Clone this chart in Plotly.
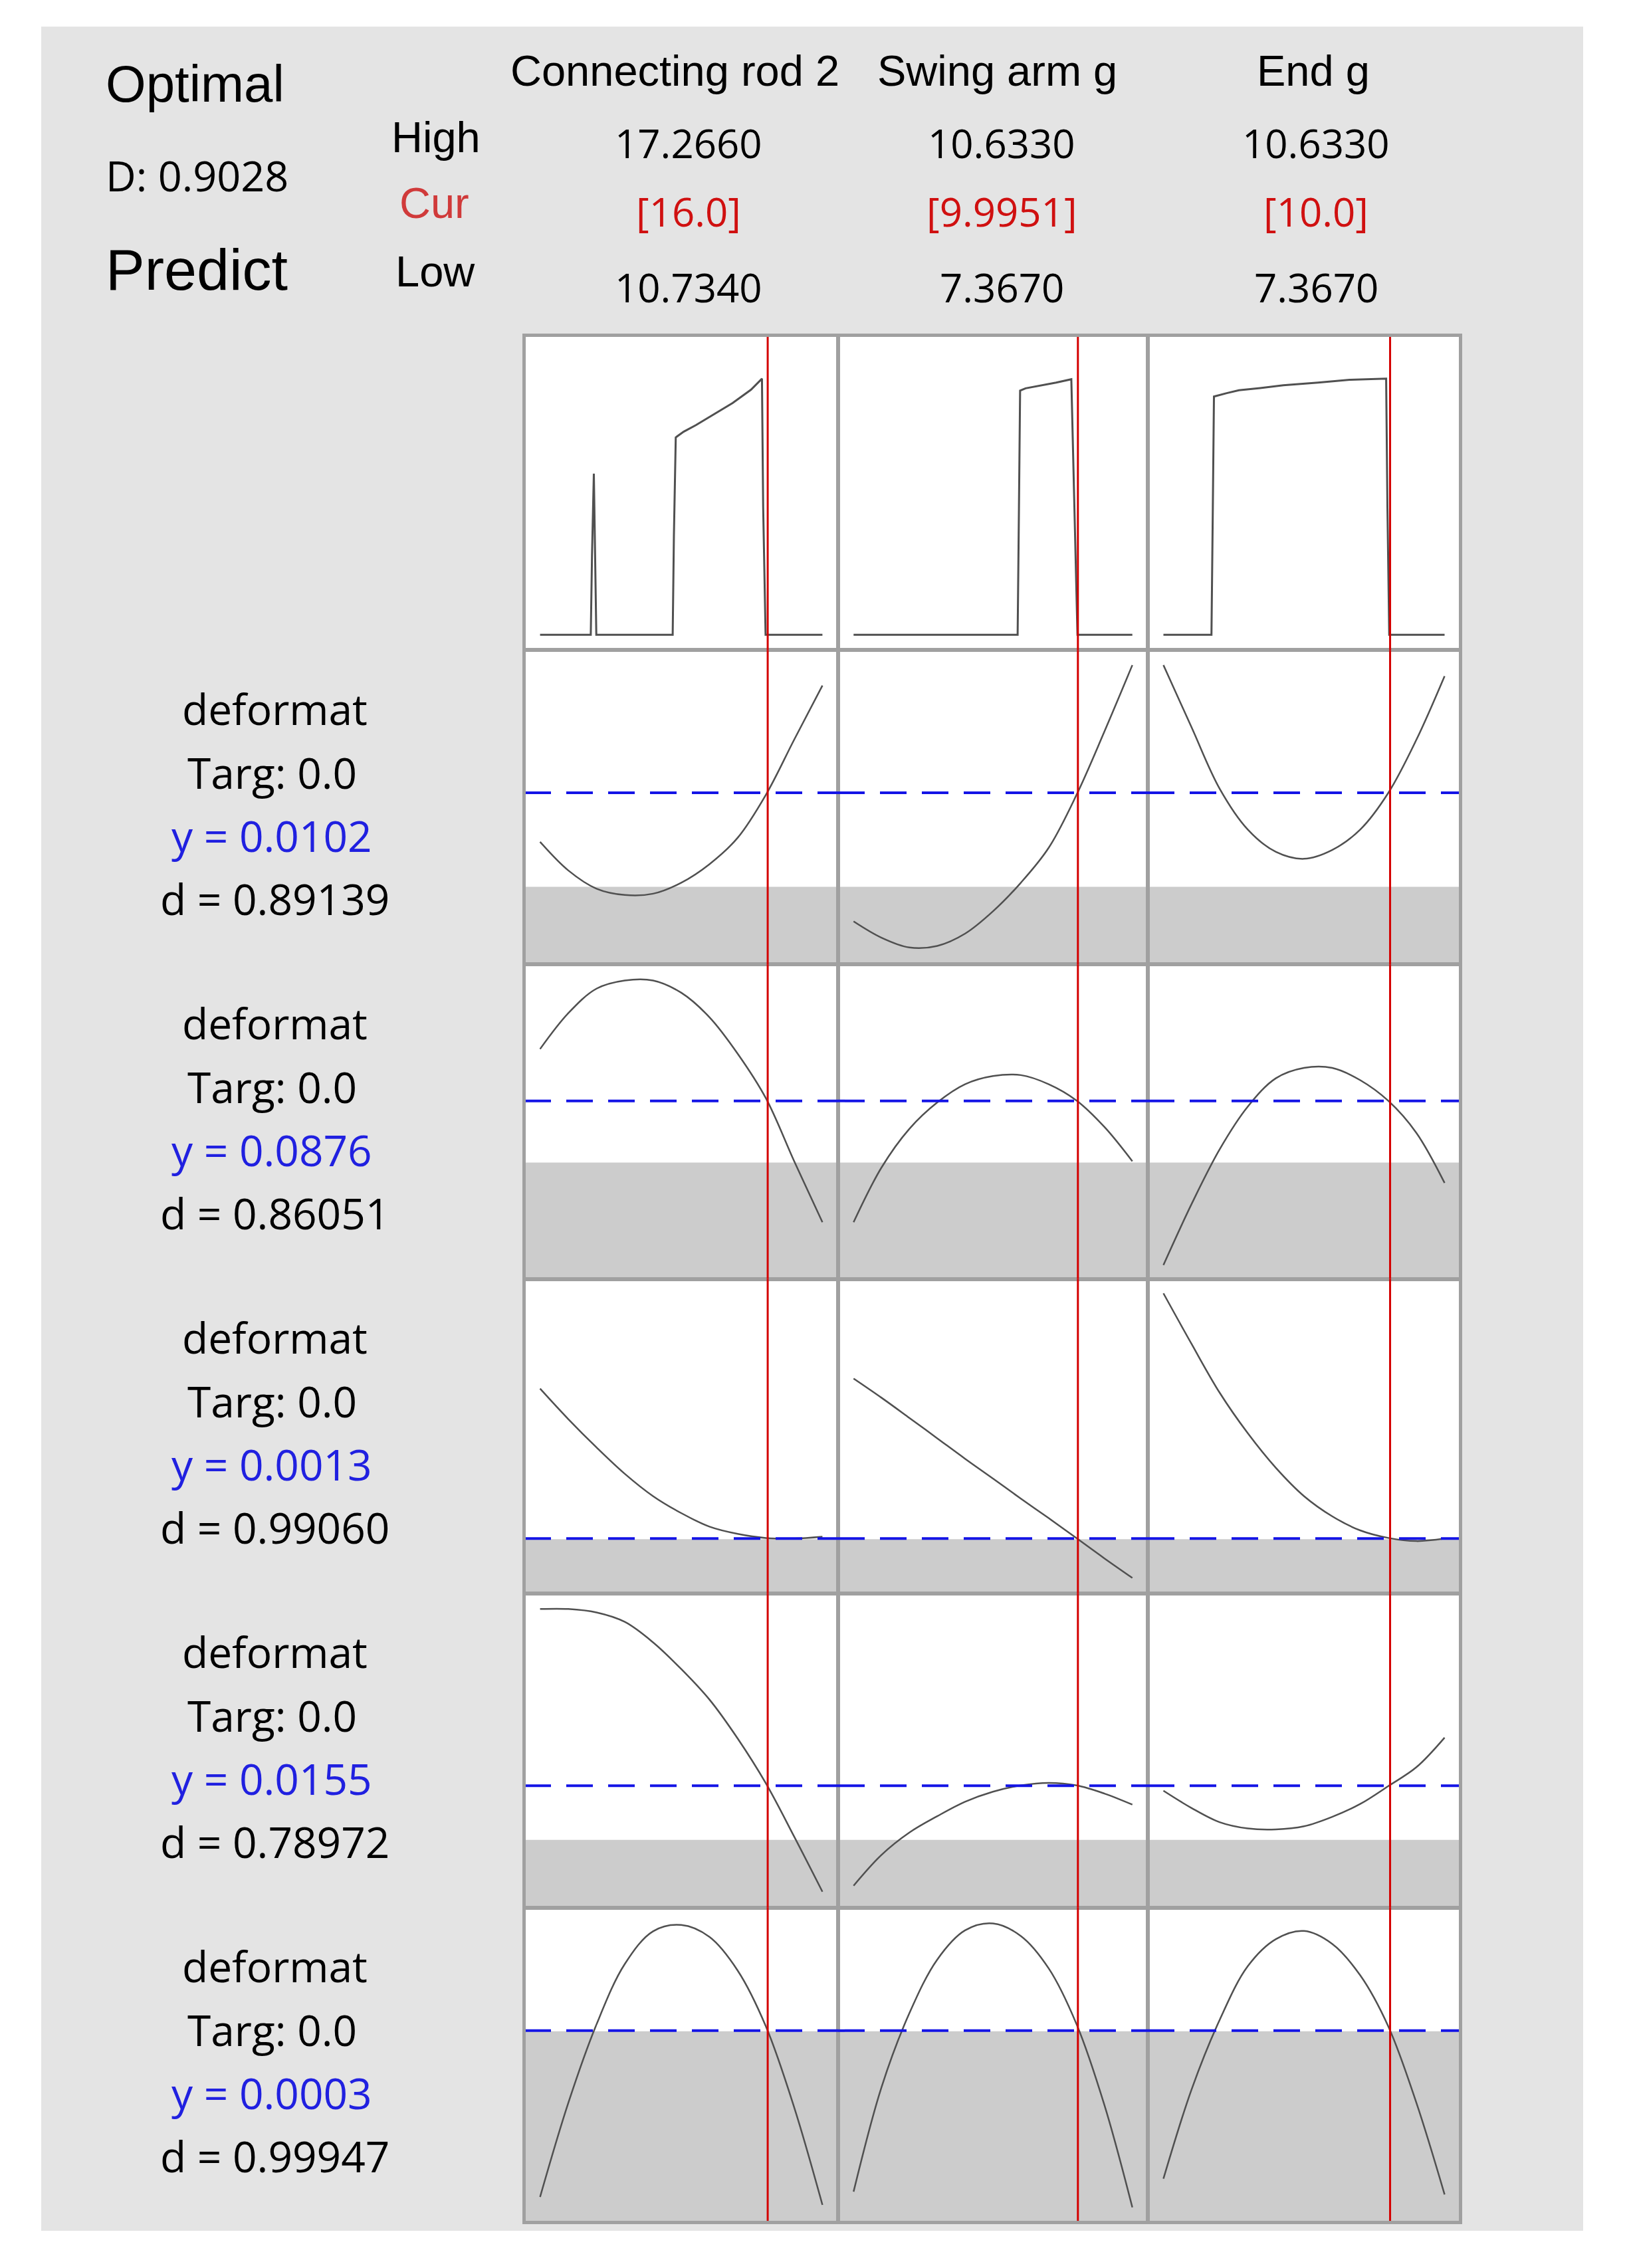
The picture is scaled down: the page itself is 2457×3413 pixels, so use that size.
import plotly.graph_objects as go
from plotly.subplots import make_subplots

# factor settings
factors = ["Connecting rod 2", "Swing arm g", "End g"]
high = [17.2660, 10.6330, 10.6330]
low = [10.7340, 7.3670, 7.3670]
cur = [16.0, 9.9951, 10.0]
high_txt = ["17.2660", "10.6330", "10.6330"]
cur_txt = ["[16.0]", "[9.9951]", "[10.0]"]
low_txt = ["10.7340", "7.3670", "7.3670"]

# composite desirability D along each factor (top row)
d_x1 = [10.734, 11.907, 11.936, 11.978, 12.007, 12.035, 13.802, 13.830, 13.873, 14.057,
        14.339, 14.764, 15.188, 15.612, 15.867, 15.895, 15.951, 17.266]
d_y1 = [0.0, 0.0, 0.283, 0.568, 0.283, 0.0, 0.0, 0.347, 0.696, 0.716,
        0.739, 0.778, 0.817, 0.864, 0.903, 0.451, 0.0, 0.0]
d_x2 = [7.367, 9.289, 9.304, 9.318, 9.382, 9.597, 9.740, 9.918, 9.954, 9.990, 10.633]
d_y2 = [0.0, 0.0, 0.431, 0.861, 0.869, 0.881, 0.889, 0.901, 0.449, 0.0, 0.0]
d_x3 = [7.367, 7.925, 7.940, 7.954, 8.102, 8.244, 8.491, 8.760, 9.163, 9.530,
        9.954, 9.969, 9.990, 10.633]
d_y3 = [0.0, 0.0, 0.422, 0.840, 0.852, 0.862, 0.870, 0.880, 0.889, 0.899,
        0.903, 0.451, 0.0, 0.0]

# factor grids for the response traces
grid_x1 = [10.734, 11.387, 12.040, 12.694, 13.347, 14.000, 14.653, 15.306, 15.960, 16.613, 17.266]
grid_x23 = [7.367, 7.694, 8.020, 8.347, 8.673, 9.000, 9.327, 9.653, 9.980, 10.306, 10.633]

# predicted deformation, scaled to panel height (0 = bottom, 1 = top)
resp1 = [[0.390, 0.299, 0.241, 0.221, 0.225, 0.260, 0.319, 0.403, 0.540, 0.715, 0.887],
         [0.137, 0.085, 0.054, 0.059, 0.098, 0.169, 0.260, 0.371, 0.540, 0.741, 0.952],
         [0.952, 0.754, 0.559, 0.429, 0.358, 0.336, 0.364, 0.429, 0.546, 0.715, 0.917]]
resp2 = [[0.731, 0.845, 0.923, 0.949, 0.949, 0.910, 0.832, 0.716, 0.574, 0.374, 0.180],
         [0.180, 0.354, 0.477, 0.561, 0.619, 0.645, 0.648, 0.619, 0.567, 0.483, 0.374],
         [0.044, 0.238, 0.412, 0.548, 0.638, 0.671, 0.671, 0.632, 0.566, 0.464, 0.305]]
resp3 = [[0.651, 0.554, 0.464, 0.380, 0.309, 0.255, 0.212, 0.189, 0.176, 0.174, 0.180],
         [0.683, 0.622, 0.558, 0.493, 0.428, 0.365, 0.301, 0.239, 0.175, 0.111, 0.049],
         [0.954, 0.793, 0.638, 0.509, 0.399, 0.309, 0.245, 0.200, 0.176, 0.166, 0.174]]
resp4 = [[0.950, 0.950, 0.939, 0.909, 0.844, 0.759, 0.662, 0.538, 0.395, 0.226, 0.051],
         [0.070, 0.168, 0.239, 0.291, 0.337, 0.369, 0.389, 0.397, 0.389, 0.363, 0.328],
         [0.372, 0.317, 0.272, 0.252, 0.249, 0.259, 0.289, 0.330, 0.387, 0.447, 0.541]]
resp5 = [[0.080, 0.379, 0.629, 0.821, 0.925, 0.945, 0.907, 0.800, 0.622, 0.365, 0.055],
         [0.097, 0.429, 0.664, 0.835, 0.928, 0.950, 0.910, 0.807, 0.629, 0.372, 0.047],
         [0.138, 0.422, 0.643, 0.814, 0.900, 0.926, 0.885, 0.785, 0.622, 0.379, 0.088]]
responses = [resp1, resp2, resp3, resp4, resp5]

pred_level = [0.546, 0.566, 0.174, 0.388, 0.609]
band_top = [0.247, 0.370, 0.172, 0.216, 0.607]
resp_y = ["0.0102", "0.0876", "0.0013", "0.0155", "0.0003"]
resp_d = ["0.89139", "0.86051", "0.99060", "0.78972", "0.99947"]

# page body adds an 8px margin, so the figure is drawn 8px smaller
OFF = 8
W, H = 2457 - OFF, 3413 - OFF
L, R, T, B = 789 - OFF, 2197 - OFF, 505 - OFF, 3344 - OFF
ROW_H = (B - T) / 6


def px(x):
    # screen pixel -> paper x
    return (x - OFF - L) / (R - L)


def py(y):
    # screen pixel -> paper y
    return (B - (y - OFF)) / (B - T)


fig = make_subplots(rows=6, cols=3, horizontal_spacing=0, vertical_spacing=0,
                    column_widths=[472, 466, 470])

LINE = "#505050"
d_xs = [d_x1, d_x2, d_x3]
d_ys = [d_y1, d_y2, d_y3]
grids = [grid_x1, grid_x23, grid_x23]

for c in range(3):
    fig.add_trace(go.Scatter(x=d_xs[c], y=d_ys[c], mode="lines",
                             line=dict(color=LINE, width=3)), row=1, col=c + 1)
    for r in range(5):
        fig.add_trace(go.Scatter(x=grids[c], y=responses[r][c], mode="lines",
                                 line=dict(color=LINE, width=2.5, shape="spline")),
                      row=r + 2, col=c + 1)

for r in range(6):
    for c in range(3):
        n = r * 3 + c + 1
        xa = "x" if n == 1 else f"x{n}"
        ya = "y" if n == 1 else f"y{n}"
        span = high[c] - low[c]
        fig.update_xaxes(range=[low[c] - 0.0555 * span, high[c] + 0.0555 * span],
                         row=r + 1, col=c + 1)
        if r == 0:
            fig.update_yaxes(range=[-0.054, 1.055], row=1, col=c + 1)
        else:
            fig.update_yaxes(range=[0, 1], row=r + 1, col=c + 1)
            fig.add_shape(type="rect", xref=f"{xa} domain", yref=ya, x0=0, x1=1,
                          y0=0, y1=band_top[r - 1], fillcolor="#cccccc",
                          line=dict(width=0), layer="below")
            fig.add_shape(type="line", xref=f"{xa} domain", yref=ya, x0=0, x1=1,
                          y0=pred_level[r - 1], y1=pred_level[r - 1],
                          line=dict(color="#1414e6", width=4, dash="40px,23px"),
                          layer="above")
        fig.add_shape(type="line", xref=xa, yref=f"{ya} domain", x0=cur[c], x1=cur[c],
                      y0=0, y1=1, line=dict(color="#d40000", width=3), layer="above")

fig.update_xaxes(showticklabels=False, ticks="", showgrid=False, zeroline=False,
                 showline=True, mirror=True, linecolor="#a0a0a0", linewidth=3,
                 fixedrange=True)
fig.update_yaxes(showticklabels=False, ticks="", showgrid=False, zeroline=False,
                 showline=True, mirror=True, linecolor="#a0a0a0", linewidth=3,
                 fixedrange=True)

# outer frame and white strips around the grey window
fig.add_shape(type="rect", xref="paper", yref="paper", x0=0, x1=1, y0=0, y1=1,
              line=dict(color="#a0a0a0", width=4), layer="above")
for x0, x1, y0, y1 in [(0, 62, 0, 3413), (2382, 2457, 0, 3413),
                       (0, 2457, 0, 40), (0, 2457, 3357, 3413)]:
    fig.add_shape(type="rect", xref="paper", yref="paper", x0=px(x0), x1=px(x1),
                  y0=py(y1), y1=py(y0), fillcolor="white", line=dict(width=0),
                  layer="above")

ARIAL = "Liberation Sans"
SEGOE = "Open Sans"


def label(text, x, y, size, family, color="black", anchor="center"):
    fig.add_annotation(text=text, x=px(x), y=py(y), xref="paper", yref="paper",
                       showarrow=False, xanchor=anchor, yanchor="middle",
                       font=dict(size=size, family=family, color=color))


label("Optimal", 157, 126, 78, ARIAL, anchor="left")
label("D: 0.9028", 157, 263, 63, SEGOE, anchor="left")
label("Predict", 157, 406, 88, ARIAL, anchor="left")
label("High", 656, 207, 65, ARIAL)
label("Cur", 653, 306, 65, ARIAL, color="#d03a3a")
label("Low", 655, 408, 65, ARIAL)

name_x = [1015, 1500, 1976]
num_x = [1036, 1507, 1980]
for c in range(3):
    label(factors[c], name_x[c], 107, 65, ARIAL)
    label(high_txt[c], num_x[c], 215, 60, SEGOE)
    label(cur_txt[c], num_x[c], 318, 60, SEGOE, color="#d01010")
    label(low_txt[c], num_x[c], 432, 60, SEGOE)

for k in range(5):
    top = 505 + (k + 1) * ROW_H
    label("deformat", 413, top + 88, 64, SEGOE)
    label("Targ: 0.0", 409, top + 184, 64, SEGOE)
    label(f"y = {resp_y[k]}", 409, top + 279, 64, SEGOE, color="#2020e0")
    label(f"d = {resp_d[k]}", 413, top + 374, 64, SEGOE)

fig.update_layout(
    width=W, height=H,
    margin=dict(l=L, r=W - R, t=T, b=H - B),
    paper_bgcolor="#e4e4e4",
    plot_bgcolor="#ffffff",
    showlegend=False,
)

fig.write_html("out.html")
